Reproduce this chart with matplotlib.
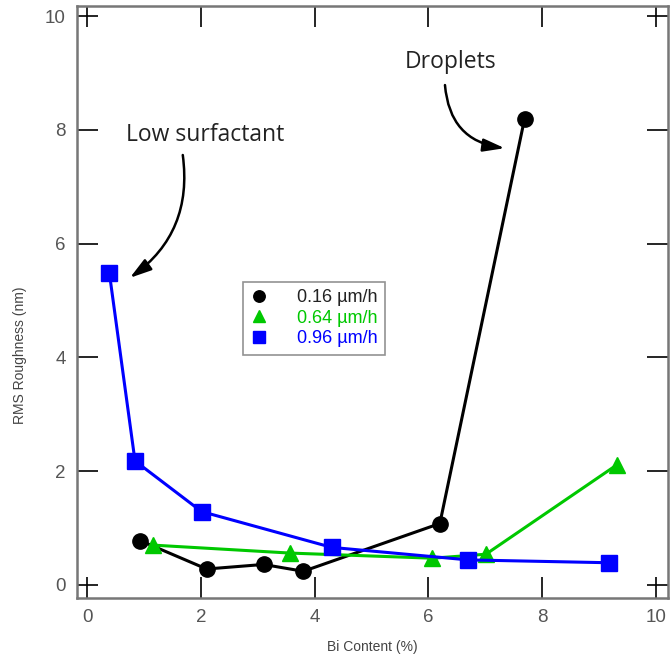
import matplotlib
matplotlib.use('Agg')
import matplotlib.pyplot as plt

# data
bi_016 = [0.93, 2.10, 3.10, 3.80, 6.20, 7.69]
rms_016 = [0.78, 0.28, 0.36, 0.24, 1.08, 8.20]

bi_064 = [1.16, 3.57, 6.07, 7.01, 9.31]
rms_064 = [0.70, 0.56, 0.47, 0.54, 2.11]

bi_096 = [0.39, 0.84, 2.01, 4.30, 6.70, 9.18]
rms_096 = [5.48, 2.18, 1.29, 0.66, 0.44, 0.39]

labels = ['0.16 \u00b5m/h', '0.64 \u00b5m/h', '0.96 \u00b5m/h']
colors = ['black', '#00c800', '#0000ff']
ticks = [0, 2, 4, 6, 8, 10]

plt.rcParams['font.family'] = ['Liberation Sans', 'DejaVu Sans']

fig = plt.figure(figsize=(6.7, 6.61), dpi=100)
ax = fig.add_axes([0.1149, 0.0953, 0.882, 0.8956])

ax.plot(bi_016, rms_016, '-o', color=colors[0], lw=2.2, ms=11, label=labels[0])
ax.plot(bi_064, rms_064, '-^', color=colors[1], lw=2.2, ms=12, label=labels[1])
ax.plot(bi_096, rms_096, '-s', color=colors[2], lw=2.2, ms=11, label=labels[2])

ax.set_xlim(-0.18, 10.21)
ax.set_ylim(-0.23, 10.18)
ax.set_xticks(ticks)
ax.set_yticks(ticks)
ax.tick_params(direction='in', length=15, width=1.2, top=True, right=True,
               labelsize=13.5, labelcolor='#555555', color='black', pad=8)
for s in ax.spines.values():
    s.set_color('#777777')
    s.set_linewidth(1.8)

ax.set_xlabel('Bi Content (%)', fontsize=10, color='#444444', labelpad=10)
ax.set_ylabel('RMS Roughness (nm)', fontsize=10, color='#444444')
ax.yaxis.set_label_coords(-0.085, 0.41)

leg = ax.legend(loc='upper left', bbox_to_anchor=(0.281, 0.534), borderaxespad=0,
                fancybox=False, edgecolor='#777777', fontsize=13, handlelength=1.0,
                handletextpad=1.6, labelspacing=0.2, markerscale=0.75, borderpad=0.4)
leg.get_frame().set_linewidth(1.2)
for h in leg.get_lines():
    h.set_linestyle('none')
for t, c in zip(leg.get_texts(), ['#222222'] + colors[1:]):
    t.set_color(c)

ann_font = ['Open Sans', 'DejaVu Sans']
ax.text(2.07, 7.91, 'Low surfactant', fontsize=16.5, family=ann_font, color='#222222',
        ha='center', va='center')
ax.annotate('', xy=(0.75, 5.40), xytext=(1.68, 7.56),
            arrowprops=dict(arrowstyle='-|>,head_length=1.0,head_width=0.3',
                            connectionstyle='arc3,rad=-0.3', color='black', lw=1.8,
                            mutation_scale=13, shrinkA=0, shrinkB=0))
ax.text(6.38, 9.19, 'Droplets', fontsize=16.5, family=ann_font, color='#222222',
        ha='center', va='center')
ax.annotate('', xy=(7.34, 7.68), xytext=(6.29, 8.79),
            arrowprops=dict(arrowstyle='-|>,head_length=1.0,head_width=0.3',
                            connectionstyle='arc3,rad=0.4', color='black', lw=1.8,
                            mutation_scale=13, shrinkA=0, shrinkB=0))

fig.savefig('out.png', dpi=100)
